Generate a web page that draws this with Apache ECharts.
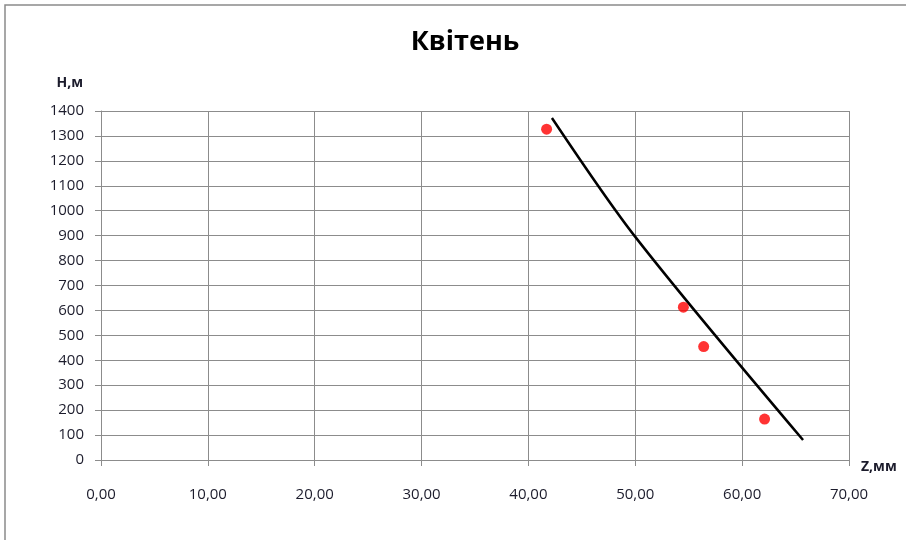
<!DOCTYPE html>
<html>
<head>
<meta charset="utf-8">
<script src="https://cdn.jsdelivr.net/npm/echarts@6/dist/echarts.min.js"></script>
<style>
  html, body { margin: 0; padding: 0; background: #fff; }
  #chart { width: 906px; height: 540px; }
</style>
</head>
<body>
<div id="chart"></div>
<script>
// Measured points: precipitation Z (mm) vs altitude H (m)
const measZ = [41.7, 54.5, 56.4, 62.1];
const measH = [1327, 613, 455, 164];

// Trend curve through the measurements
const trendZ = [42.2, 50.0, 65.7];
const trendH = [1372, 895, 80];

const xTicks = { min: 0, max: 70, step: 10 };
const yTicks = { min: 0, max: 1400, step: 100 };

const textColor = '#1c1c2c';
const gridColor = '#8c8c8c';
const font = '"Open Sans", sans-serif';

const chart = echarts.init(document.getElementById('chart'), null, { renderer: 'canvas' });

chart.setOption({
  backgroundColor: '#ffffff',
  animation: false,
  title: {
    text: 'Квітень',
    left: 460,
    textAlign: 'center',
    top: 24,
    textStyle: { fontFamily: font, fontSize: 27, fontWeight: 'bold', color: '#000' }
  },
  graphic: [{
    type: 'rect',
    shape: { x: 5, y: 5, width: 1000, height: 1000 },
    style: { fill: 'none', stroke: '#8a8a8a', lineWidth: 1.5 },
    silent: true
  }],
  grid: { left: 101, right: 57, top: 111, bottom: 80 },
  xAxis: {
    type: 'value',
    min: xTicks.min, max: xTicks.max, interval: xTicks.step,
    name: 'Z,мм',
    nameLocation: 'end',
    nameGap: 12,
    nameTextStyle: { fontFamily: font, fontSize: 14, fontWeight: 'bold', color: textColor, verticalAlign: 'top', padding: [0, 0, 0, 0] },
    axisLine: { show: true, lineStyle: { color: gridColor, width: 1 } },
    axisTick: { show: true, length: 6, lineStyle: { color: gridColor } },
    axisLabel: {
      margin: 27, fontFamily: font, fontSize: 15, color: textColor,
      formatter: v => v.toFixed(2).replace('.', ',')
    },
    splitLine: { show: true, lineStyle: { color: gridColor, width: 1 } }
  },
  yAxis: {
    type: 'value',
    min: yTicks.min, max: yTicks.max, interval: yTicks.step,
    name: 'Н,м',
    nameLocation: 'end',
    nameGap: 21,
    nameTextStyle: { fontFamily: font, fontSize: 14, fontWeight: 'bold', color: textColor, align: 'right', padding: [0, 18, 0, 0] },
    axisLine: { show: true, lineStyle: { color: gridColor, width: 1 } },
    axisTick: { show: true, length: 6, lineStyle: { color: gridColor } },
    axisLabel: { margin: 17, fontFamily: font, fontSize: 15, color: textColor, formatter: v => String(v) },
    splitLine: { show: true, lineStyle: { color: gridColor, width: 1 } }
  },
  series: [
    {
      type: 'line',
      data: trendZ.map((z, i) => [z, trendH[i]]),
      smooth: 0.3,
      showSymbol: false,
      lineStyle: { color: '#000', width: 2.5 },
      z: 2
    },
    {
      type: 'scatter',
      data: measZ.map((z, i) => [z, measH[i]]),
      symbol: 'circle',
      symbolSize: 11,
      itemStyle: { color: '#ff0000' },
      z: 3
    }
  ]
});
</script>
</body>
</html>
